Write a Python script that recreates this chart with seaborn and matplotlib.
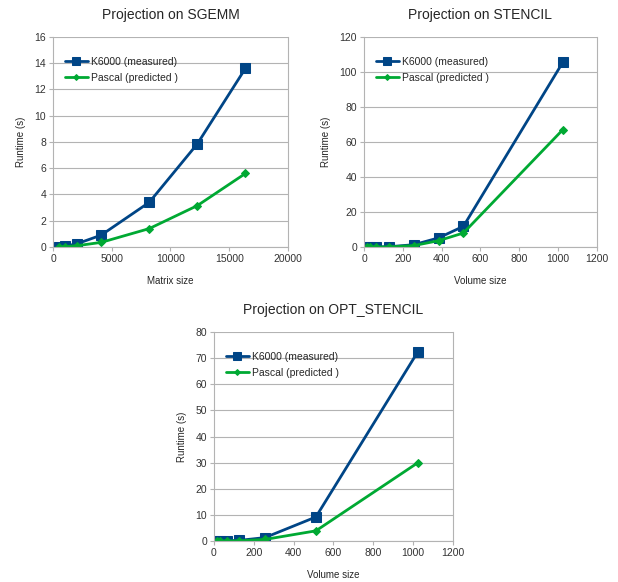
import numpy as np
import pandas as pd
import matplotlib
matplotlib.use('Agg')
import matplotlib.pyplot as plt
import seaborn as sns

sns.set_style('white')
plt.rcParams['font.family'] = ['Liberation Sans', 'DejaVu Sans']

# SGEMM data
sgemm_size = [512, 1024, 2048, 4096, 8192, 12288, 16384]
sgemm_k6000 = [0.02, 0.06, 0.25, 0.9, 3.4, 7.85, 13.6]
sgemm_pascal = [0.01, 0.03, 0.1, 0.35, 1.4, 3.15, 5.6]

# STENCIL data
stencil_size = [16, 32, 64, 128, 256, 384, 512, 1024]
stencil_k6000 = [0.0, 0.0, 0.05, 0.15, 1.3, 5.2, 11.8, 105.5]
stencil_pascal = [0.0, 0.0, 0.03, 0.08, 0.8, 3.6, 8.0, 67.0]

# OPT_STENCIL data
opt_size = [16, 32, 64, 128, 256, 512, 1024]
opt_k6000 = [0.0, 0.02, 0.05, 0.25, 1.3, 9.2, 72.5]
opt_pascal = [0.0, 0.01, 0.03, 0.1, 0.6, 3.9, 30.0]

series_names = ['K6000 (measured)', 'Pascal (predicted )']
colors = {'K6000 (measured)': '#004586', 'Pascal (predicted )': '#00a933'}
markers = {'K6000 (measured)': 's', 'Pascal (predicted )': 'D'}


def make_df(x, a, b):
    return pd.DataFrame({
        'x': list(x) * 2,
        'y': list(a) + list(b),
        'series': [series_names[0]] * len(x) + [series_names[1]] * len(x),
    })


fig = plt.figure(figsize=(6.18, 5.82), dpi=100)
ax1 = fig.add_axes([0.0858, 0.5756, 0.380, 0.361])
ax2 = fig.add_axes([0.589, 0.5756, 0.377, 0.361])
ax3 = fig.add_axes([0.346, 0.0704, 0.387, 0.359])

panels = [
    (ax1, make_df(sgemm_size, sgemm_k6000, sgemm_pascal), 'Projection on SGEMM', 'Matrix size', 20000, 5000, 16, 2),
    (ax2, make_df(stencil_size, stencil_k6000, stencil_pascal), 'Projection on STENCIL', 'Volume size', 1200, 200, 120, 20),
    (ax3, make_df(opt_size, opt_k6000, opt_pascal), 'Projection on OPT_STENCIL', 'Volume size', 1200, 200, 80, 10),
]

for ax, df, title, xlabel, xmax, xstep, ymax, ystep in panels:
    for name in series_names:
        sub = df[df['series'] == name]
        sns.lineplot(data=sub, x='x', y='y', ax=ax, color=colors[name],
                     marker=markers[name], markersize=7 if markers[name] == 's' else 4,
                     markeredgecolor=colors[name], linewidth=2, label=name)
    ax.set_xlim(0, xmax)
    ax.set_ylim(0, ymax)
    ax.set_xticks(np.arange(0, xmax + 1, xstep))
    ax.set_yticks(np.arange(0, ymax + 1, ystep))
    ax.grid(axis='y', color='#b3b3b3', linewidth=0.8)
    ax.set_axisbelow(True)
    for s in ax.spines.values():
        s.set_color('#b3b3b3')
        s.set_linewidth(0.8)
    ax.spines['top'].set_visible(False)
    ax.tick_params(axis='both', labelsize=7.5, length=3, color='#b3b3b3', direction='out',
                   bottom=True, left=True, pad=2)
    ax.set_title(title, fontsize=10, pad=13)
    ax.set_xlabel(xlabel, fontsize=7, labelpad=9)
    ax.set_ylabel('Runtime (s)', fontsize=7, labelpad=6)
    for lab in ax.get_xticklabels() + ax.get_yticklabels():
        lab.set_color('#333333')
    ax.legend(loc='upper left', bbox_to_anchor=(0.01, 0.95), frameon=False, fontsize=7.5,
              handlelength=2.2, handletextpad=0.35, labelspacing=0.55, markerscale=0.75)

fig.savefig('out.png', dpi=100)
